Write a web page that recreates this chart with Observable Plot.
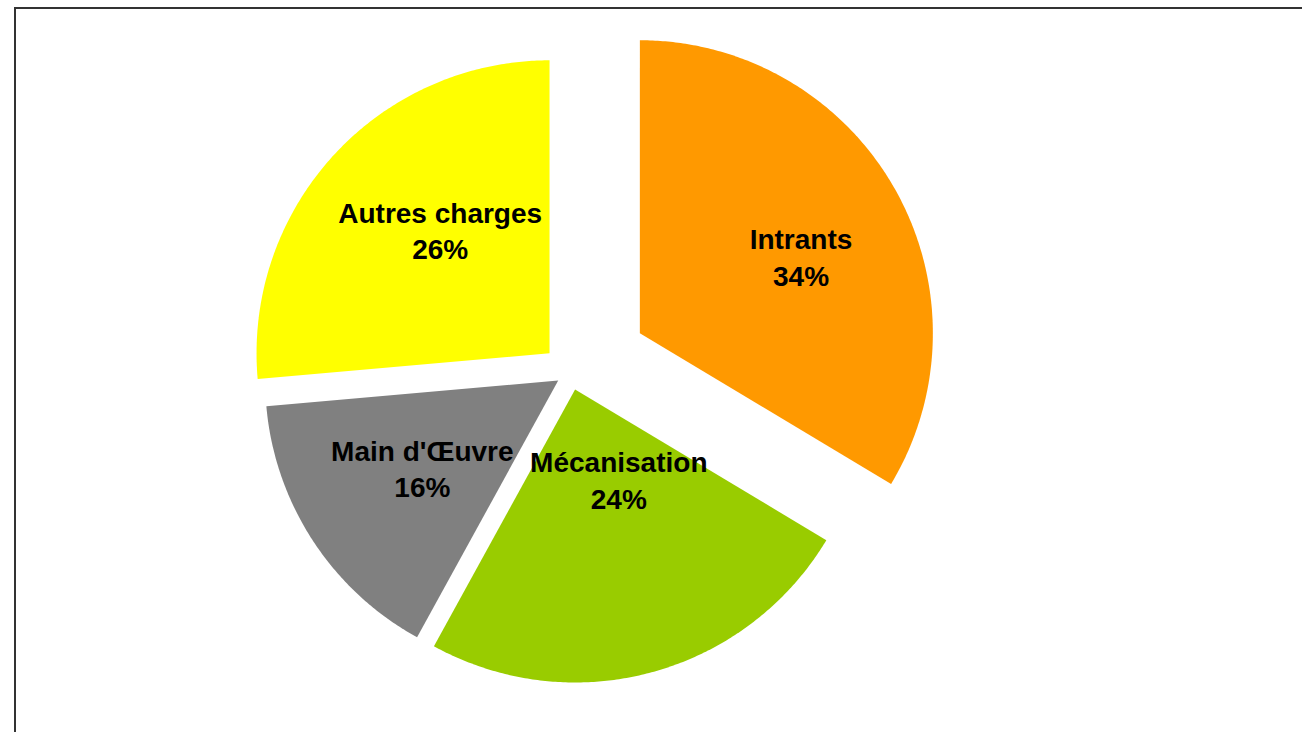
<!DOCTYPE html>
<html>
<head>
<meta charset="utf-8">
<script src="https://cdn.jsdelivr.net/npm/d3@7"></script>
<script src="https://cdn.jsdelivr.net/npm/@observablehq/plot@0.6"></script>
<style>
  html, body { margin: 0; padding: 0; background: #fff; overflow: hidden; }
  #wrap { position: relative; width: 1302px; height: 732px; overflow: hidden; }
  #border { position: absolute; left: 14px; top: 7px; width: 1400px; height: 900px;
            border-left: 2px solid #333; border-top: 2px solid #333; box-sizing: border-box; }
  #chart { position: absolute; left: 0; top: 0; }
</style>
</head>
<body>
<div id="wrap"><div id="border"></div><div id="chart"></div></div>
<script>
// ---- data ----
const categories = ["Intrants", "Mécanisation", "Main d'Œuvre", "Autres charges"];
const shares = [33.6, 24.4, 15.6, 26.4];
const percentLabels = ["34%", "24%", "16%", "26%"];

// ---- style / layout ----
const colors = ["#FF9900", "#99CC00", "#808080", "#FFFF00"];
const W = 1302, H = 732;
const R = 293;            // pie radius, px
const CX = 570, CY = 372; // pie center, px
const explode = [0.272, 0.06, 0.05, 0.097];       // radius units
const labelR = [0.61, 0.34, 0.55, 0.563];          // radius units from slice vertex
const labelShift = [3.9, -10.9, 0.6, 6];           // degrees

const rad = Math.PI / 180;
const total = d3.sum(shares);
let acc = 0;
const slices = categories.map((c, i) => {
  const a0 = acc / total * 360;
  acc += shares[i];
  const a1 = acc / total * 360;
  const mid = (a0 + a1) / 2;
  const vx = explode[i] * Math.sin(mid * rad);
  const vy = explode[i] * Math.cos(mid * rad);
  return {c, i, a0, a1, mid, vx, vy};
});

const polys = slices.map(s => {
  const pts = [{x: s.vx, y: s.vy}];
  const n = Math.ceil((s.a1 - s.a0) / 0.5);
  for (let k = 0; k <= n; k++) {
    const a = (s.a0 + (s.a1 - s.a0) * k / n) * rad;
    pts.push({x: s.vx + Math.sin(a), y: s.vy + Math.cos(a)});
  }
  pts.push({x: s.vx, y: s.vy});
  return pts;
});

const labels = slices.map(s => {
  const a = (s.mid + labelShift[s.i]) * rad;
  return {
    x: s.vx + labelR[s.i] * Math.sin(a),
    y: s.vy + labelR[s.i] * Math.cos(a),
    text: categories[s.i] + "\n" + percentLabels[s.i]
  };
});

const chart = Plot.plot({
  width: W, height: H,
  margin: 0,
  x: {domain: [-CX / R, (W - CX) / R], range: [0, W], axis: null},
  y: {domain: [-(H - CY) / R, CY / R], range: [H, 0], axis: null},
  marks: [
    ...polys.map((p, i) => Plot.line(p, {x: "x", y: "y", fill: colors[i], stroke: "none", curve: "linear"})),
    Plot.text(labels, {
      x: "x", y: "y", text: "text",
      fontSize: 28, fontWeight: "bold", fill: "#000",
      fontFamily: "'Liberation Sans', Arial, sans-serif",
      lineHeight: 1.29, textAnchor: "middle"
    })
  ]
});
chart.style.fontFamily = "'Liberation Sans', Arial, sans-serif";
document.getElementById("chart").appendChild(chart);
</script>
</body>
</html>
